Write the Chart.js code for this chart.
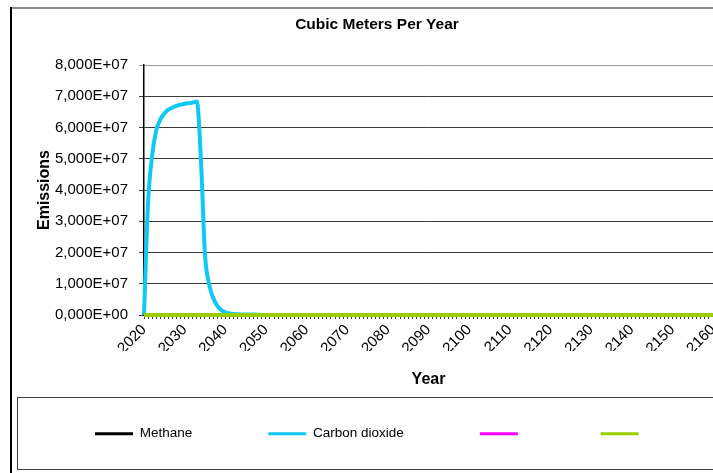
<!DOCTYPE html>
<html>
<head>
<meta charset="utf-8">
<title>Cubic Meters Per Year</title>
<script src="https://cdn.jsdelivr.net/npm/chart.js@4.4.1/dist/chart.umd.min.js"></script>
<style>
  html, body { margin: 0; padding: 0; background: #fff; overflow: hidden; }
  #chart { display: block; }
</style>
</head>
<body>
<canvas id="chart" width="750" height="473"></canvas>
<script>
// --- 1. Data ---
const years = [
  '2020','2021','2022','2023','2024','2025','2026','2027','2028','2029',
  '2030','2031','2032','2033','2034','2035','2036','2037','2038','2039',
  '2040','2041','2042','2043','2044','2045','2046','2047','2048','2049',
  '2050','2051','2052','2053','2054','2055','2056','2057','2058','2059',
  '2060','2061','2062','2063','2064','2065','2066','2067','2068','2069',
  '2070','2071','2072','2073','2074','2075','2076','2077','2078','2079',
  '2080','2081','2082','2083','2084','2085','2086','2087','2088','2089',
  '2090','2091','2092','2093','2094','2095','2096','2097','2098','2099',
  '2100','2101','2102','2103','2104','2105','2106','2107','2108','2109',
  '2110','2111','2112','2113','2114','2115','2116','2117','2118','2119',
  '2120','2121','2122','2123','2124','2125','2126','2127','2128','2129',
  '2130','2131','2132','2133','2134','2135','2136','2137','2138','2139',
  '2140','2141','2142','2143','2144','2145','2146','2147','2148','2149',
  '2150','2151','2152','2153','2154','2155','2156','2157','2158','2159',
  '2160'
];

// Carbon dioxide, m3 per year
const carbonDioxide = [
  0, 3.6e7, 5.1e7, 5.9e7, 6.25e7, 6.45e7, 6.57e7, 6.64e7, 6.69e7, 6.73e7,
  6.76e7, 6.78e7, 6.8e7, 6.83e7, 5.0e7, 1.95e7, 1.0e7, 5.5e6, 3.0e6, 1.6e6,
  8.5e5, 5.0e5, 3.0e5, 2.5e5, 2.0e5, 2.0e5, 1.5e5, 1.5e5, 1.0e5, 0,
  0, 0, 0, 0, 0, 0, 0, 0, 0, 0,
  0, 0, 0, 0, 0, 0, 0, 0, 0, 0,
  0, 0, 0, 0, 0, 0, 0, 0, 0, 0,
  0, 0, 0, 0, 0, 0, 0, 0, 0, 0,
  0, 0, 0, 0, 0, 0, 0, 0, 0, 0,
  0, 0, 0, 0, 0, 0, 0, 0, 0, 0,
  0, 0, 0, 0, 0, 0, 0, 0, 0, 0,
  0, 0, 0, 0, 0, 0, 0, 0, 0, 0,
  0, 0, 0, 0, 0, 0, 0, 0, 0, 0,
  0, 0, 0, 0, 0, 0, 0, 0, 0, 0,
  0, 0, 0, 0, 0, 0, 0, 0, 0, 0,
  0
];

// Methane and the two unnamed series sit on zero the whole way
const methane = [
  0,0,0,0,0,0,0,0,0,0, 0,0,0,0,0,0,0,0,0,0, 0,0,0,0,0,0,0,0,0,0,
  0,0,0,0,0,0,0,0,0,0, 0,0,0,0,0,0,0,0,0,0, 0,0,0,0,0,0,0,0,0,0,
  0,0,0,0,0,0,0,0,0,0, 0,0,0,0,0,0,0,0,0,0, 0,0,0,0,0,0,0,0,0,0,
  0,0,0,0,0,0,0,0,0,0, 0,0,0,0,0,0,0,0,0,0, 0,0,0,0,0,0,0,0,0,0,
  0,0,0,0,0,0,0,0,0,0, 0,0,0,0,0,0,0,0,0,0, 0
];
const seriesMagenta = [
  0,0,0,0,0,0,0,0,0,0, 0,0,0,0,0,0,0,0,0,0, 0,0,0,0,0,0,0,0,0,0,
  0,0,0,0,0,0,0,0,0,0, 0,0,0,0,0,0,0,0,0,0, 0,0,0,0,0,0,0,0,0,0,
  0,0,0,0,0,0,0,0,0,0, 0,0,0,0,0,0,0,0,0,0, 0,0,0,0,0,0,0,0,0,0,
  0,0,0,0,0,0,0,0,0,0, 0,0,0,0,0,0,0,0,0,0, 0,0,0,0,0,0,0,0,0,0,
  0,0,0,0,0,0,0,0,0,0, 0,0,0,0,0,0,0,0,0,0, 0
];
const seriesGreen = [
  0,0,0,0,0,0,0,0,0,0, 0,0,0,0,0,0,0,0,0,0, 0,0,0,0,0,0,0,0,0,0,
  0,0,0,0,0,0,0,0,0,0, 0,0,0,0,0,0,0,0,0,0, 0,0,0,0,0,0,0,0,0,0,
  0,0,0,0,0,0,0,0,0,0, 0,0,0,0,0,0,0,0,0,0, 0,0,0,0,0,0,0,0,0,0,
  0,0,0,0,0,0,0,0,0,0, 0,0,0,0,0,0,0,0,0,0, 0,0,0,0,0,0,0,0,0,0,
  0,0,0,0,0,0,0,0,0,0, 0,0,0,0,0,0,0,0,0,0, 0
];

const yTickLabels = [
  '0,000E+00', '1,000E+07', '2,000E+07', '3,000E+07', '4,000E+07',
  '5,000E+07', '6,000E+07', '7,000E+07', '8,000E+07'
];
const xTickLabels = [
  '2020', '2030', '2040', '2050', '2060', '2070', '2080', '2090',
  '2100', '2110', '2120', '2130', '2140', '2150', '2160'
];

// --- 2. Frame plugin: outer chart border and legend box ---
const framePlugin = {
  id: 'frame',
  beforeDraw(chart) {
    const ctx = chart.ctx;
    ctx.save();
    ctx.fillStyle = '#fff';
    ctx.fillRect(0, 0, chart.width, chart.height);
    ctx.lineWidth = 2;
    ctx.strokeStyle = '#8c8c8c';
    ctx.beginPath();
    ctx.moveTo(10, 8);
    ctx.lineTo(chart.width, 8);
    ctx.stroke();
    ctx.strokeStyle = '#000';
    ctx.beginPath();
    ctx.moveTo(11, 7);
    ctx.lineTo(11, chart.height);
    ctx.stroke();
    ctx.lineWidth = 1;
    ctx.strokeStyle = '#404040';
    ctx.strokeRect(17.5, 397.5, chart.width, 72);
    ctx.restore();
  }
};

// --- 3. Chart ---
Chart.defaults.font.family = "'Liberation Sans', Arial, sans-serif";
Chart.defaults.color = '#000';

const ctx = document.getElementById('chart').getContext('2d');
new Chart(ctx, {
  type: 'line',
  data: {
    labels: years,
    datasets: [
      { label: 'Methane', data: methane, borderColor: '#000', backgroundColor: '#000',
        borderWidth: 3, clip: 6, order: 4 },
      { label: 'Carbon dioxide', data: carbonDioxide, borderColor: '#10c8f4', backgroundColor: '#10c8f4',
        borderWidth: 4, clip: 6, cubicInterpolationMode: 'monotone', order: 3 },
      { label: '', data: seriesMagenta, borderColor: '#ff00ff', backgroundColor: '#ff00ff',
        borderWidth: 3, clip: 6, order: 2 },
      { label: '', data: seriesGreen, borderColor: '#9acd00', backgroundColor: '#9acd00',
        borderWidth: 4, clip: 6, order: 1 }
    ]
  },
  options: {
    responsive: false,
    animation: false,
    events: [],
    elements: { point: { radius: 0 } },
    layout: { padding: { left: 19, right: 15, top: 0, bottom: 22.5 } },
    scales: {
      x: {
        offset: false,
        grid: { drawOnChartArea: false, color: '#444', tickLength: 4 },
        border: { color: '#000', width: 1 },
        ticks: {
          autoSkip: false,
          minRotation: 45,
          maxRotation: 45,
          padding: 2,
          font: { size: 15 },
          callback: (v, i) => xTickLabels.includes(years[i]) ? years[i] : ''
        },
        title: { display: true, text: 'Year', font: { size: 16, weight: 'bold' }, padding: { top: 0, bottom: -38 } },
        afterFit: s => { s.height = 36; }
      },
      y: {
        min: 0,
        max: 80000000,
        ticks: {
          stepSize: 10000000,
          padding: 11,
          font: { size: 15 },
          callback: (v, i) => yTickLabels[i]
        },
        grid: {
          color: c => (c.tick && c.tick.value === 80000000) ? '#9a9a9a' : '#3c3c3c',
          tickLength: 5
        },
        border: { color: '#000', width: 1.5 },
        title: { display: true, text: 'Emissions', font: { size: 16, weight: 'bold' }, padding: { top: 16.4, bottom: 0 } },
        afterFit: s => { s.width = 125; }
      },
      y2: {
        position: 'right',
        display: true,
        grid: { display: false },
        border: { display: false },
        ticks: { display: false },
        afterFit: s => { s.width = 22; }
      }
    },
    plugins: {
      title: {
        display: true,
        text: 'Cubic Meters Per Year',
        font: { size: 15.5, weight: 'bold' },
        padding: { top: 15.7, bottom: 30.7 }
      },
      legend: {
        position: 'bottom',
        align: 'start',
        labels: {
          usePointStyle: true,
          pointStyle: 'line',
          pointStyleWidth: 38,
          padding: 76,
          font: { size: 13.5 },
          color: '#000',
          sort: (a, b) => a.datasetIndex - b.datasetIndex,
          generateLabels: chart => Chart.defaults.plugins.legend.labels.generateLabels(chart)
            .map(item => ({ ...item, lineWidth: 3 }))
        }
      },
      tooltip: { enabled: false }
    }
  },
  plugins: [framePlugin]
});
</script>
</body>
</html>
